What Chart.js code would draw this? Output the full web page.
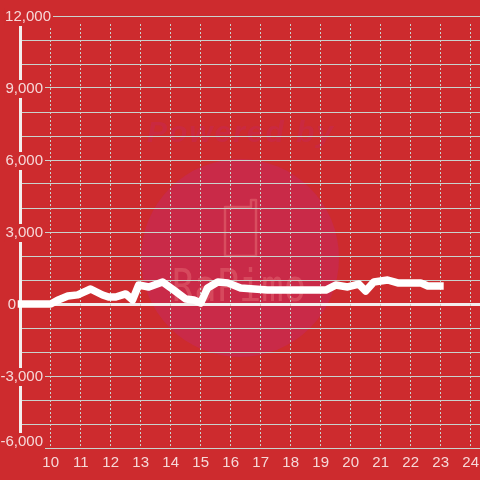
<!DOCTYPE html>
<html><head><meta charset="utf-8">
<style>html,body{margin:0;padding:0;background:#cd2b2e}canvas{display:block}</style>
<script src="https://cdn.jsdelivr.net/npm/chart.js@4"></script>
</head><body><canvas id="c" width="480" height="480"></canvas>
<script>
const hours=[8.9,10,10.23,10.57,10.9,11.33,11.73,11.93,12.17,12.5,12.73,12.93,13.27,13.73,14.1,14.5,14.77,15,15.23,15.57,15.9,16.33,17.23,19.17,19.5,19.9,20.27,20.5,20.77,21.23,21.57,22.33,22.57,23.1];
const power=[0,0,160,330,380,625,375,290,290,420,170,790,710,920,580,210,170,40,670,920,880,670,580,580,790,710,830,540,920,1000,880,880,750,750];
const yTickLabels={12000:'12,000',9000:'9,000',6000:'6,000',3000:'3,000',0:'0','-3000':'-3,000','-6000':'-6,000'};
const labelRight={12000:51,9000:43,6000:43,3000:43,0:16,'-3000':43,'-6000':43};
const labelShift={12000:1,9000:1,6000:1,3000:1,0:1,'-3000':1,'-6000':-6};
const BG='#cd2b2e',TXT='#f6d8d8',GRID='#c9d2cd',AXIS='#f3eeee';

const watermark={id:'watermark',beforeDraw(ch){const g=ch.ctx;g.save();
 g.fillStyle='#c92a48';g.beginPath();g.arc(240,258,99,0,Math.PI*2);g.fill();
 g.fillStyle='rgba(201,42,72,.7)';g.font='italic bold 30px "Liberation Sans"';g.textAlign='center';g.textBaseline='middle';
 g.letterSpacing='2px';g.fillText('Powered by',241,134,188);g.letterSpacing='0px';
 g.strokeStyle='rgba(235,120,125,.45)';g.lineWidth=2.5;g.lineJoin='round';g.beginPath();
 g.moveTo(225,207);g.lineTo(225,256);g.lineTo(256,256);g.lineTo(256,200);g.lineTo(251,200);g.lineTo(251,207);g.closePath();g.stroke();
 g.fillStyle='rgba(235,120,125,.4)';g.font='44px "DejaVu Sans Mono"';g.fillText('RaPimo',239,290,134);
 g.restore();}};

const axes={id:'axes',beforeDatasetsDraw(ch){const g=ch.ctx,x=ch.scales.x,y=ch.scales.y;g.save();
 g.strokeStyle=GRID;g.lineWidth=1;g.setLineDash([2,2]);
 x.ticks.forEach(t=>{const p=Math.floor(x.getPixelForValue(t.value))+.5;g.beginPath();g.moveTo(p,24);g.lineTo(p,448);g.stroke();});
 g.setLineDash([]);
 g.strokeStyle=AXIS;g.lineWidth=3;g.beginPath();g.moveTo(20.5,24);g.lineTo(20.5,436);g.stroke();
 g.font='15px "Liberation Sans"';g.textAlign='right';g.textBaseline='middle';
 y.ticks.forEach(t=>{const s=yTickLabels[t.value];if(s===undefined)return;
  const p=y.getPixelForValue(t.value)+labelShift[t.value],r=labelRight[t.value],w=g.measureText(s).width;
  g.fillStyle=BG;g.fillRect(t.value===0?0:r-w-1,p-9,t.value===0?r+1:w+3,18);
  g.fillStyle=TXT;g.fillText(s,r,p);});
 g.restore();}};

new Chart(document.getElementById('c'),{type:'line',
 data:{datasets:[{data:hours.map((h,i)=>({x:h,y:power[i]})),borderColor:'#ffffff',borderWidth:7.5,pointRadius:0,tension:0,fill:false,clip:false,borderJoinStyle:'round'}]},
 options:{responsive:false,animation:false,layout:{padding:{top:16,left:20.7,right:0,bottom:0}},
  plugins:{legend:{display:false},tooltip:{enabled:false}},
  scales:{
   x:{type:'linear',min:9,max:9+459.3/30,afterFit(s){s.height=32;s.paddingLeft=0;s.paddingRight=0},grid:{display:false,drawTicks:false},border:{display:false},
      afterBuildTicks(s){s.ticks=[10,11,12,13,14,15,16,17,18,19,20,21,22,23,24].map(v=>({value:v}));},
      ticks:{autoSkip:false,maxRotation:0,color:TXT,padding:6,font:{size:15,family:'"Liberation Sans"'},callback:v=>String(v)}},
   y:{min:-6000,max:12000,afterFit(s){s.width=0},border:{display:false},
      grid:{drawTicks:false,color:c=>c.tick.value===0?AXIS:GRID,lineWidth:c=>c.tick.value===0?3:1},
      ticks:{display:false,stepSize:1000}}
  }},
 plugins:[watermark,axes]});
</script></body></html>
